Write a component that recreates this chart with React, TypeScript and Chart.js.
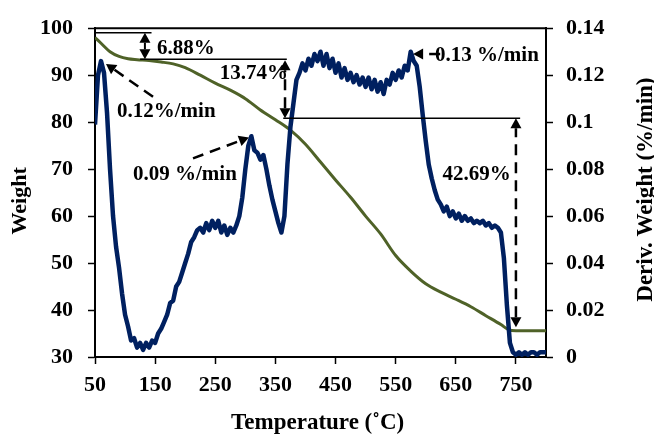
import React, { useEffect, useRef } from 'react';
import { Chart, registerables } from 'chart.js';

Chart.register(...registerables);

// ---- Data ----
const tempTicks = [50, 150, 250, 350, 450, 550, 650, 750];
const weightTicks = [30, 40, 50, 60, 70, 80, 90, 100];
const derivTicks = [0, 0.02, 0.04, 0.06, 0.08, 0.1, 0.12, 0.14];
const derivTickLabels = ['0', '0.02', '0.04', '0.06', '0.08', '0.1', '0.12', '0.14'];
const rightAxisTitle = 'Deriv. Weight (%/min)';

// TGA weight curve (%)
const tgaTemps = [50, 60, 75, 90, 105, 120, 140, 160, 180, 200, 225, 250, 275, 300, 325, 350, 375, 400, 425, 450, 475, 500, 525, 550, 575, 600, 625, 650, 675, 700, 725, 738, 750, 775, 800];
const tgaWeights = [98.0, 96.8, 95.0, 94.0, 93.5, 93.3, 93.1, 92.8, 92.4, 91.6, 90.0, 88.3, 86.8, 85.0, 82.6, 80.5, 78.3, 75.3, 71.5, 67.7, 64.0, 60.0, 56.2, 51.6, 48.3, 45.6, 43.8, 42.3, 40.7, 38.8, 36.9, 35.8, 35.6, 35.6, 35.6];

// Derivative weight curve (%/min)
const dtgTemps = [
  50, 55, 60, 65, 70, 75, 80, 85, 90, 95,
  100, 105, 110, 115, 120, 125, 130, 135, 140, 145,
  150, 155, 160, 165, 170, 175, 180, 185, 190, 195,
  200, 205, 210, 215, 220, 225, 230, 235, 240, 245,
  250, 255, 260, 265, 270, 275, 280, 285, 290, 295,
  300, 305, 310, 315, 320, 325, 330, 335, 340, 345,
  350, 355, 360, 365, 370, 375, 380, 385, 390, 395,
  400, 405, 410, 415, 420, 425, 430, 435, 440, 445,
  450, 455, 460, 465, 470, 475, 480, 485, 490, 495,
  500, 505, 510, 515, 520, 525, 530, 535, 540, 545,
  550, 555, 560, 565, 570, 575, 580, 585, 590, 595,
  600, 605, 610, 615, 620, 625, 630, 635, 640, 645,
  650, 655, 660, 665, 670, 675, 680, 685, 690, 695,
  700, 705, 710, 715, 720, 725, 730, 735, 740, 745,
  750, 755, 760, 765, 770, 775, 780, 785, 790, 795,
  800,
];
const dtgValues = [
  0.099, 0.120, 0.126, 0.121, 0.104, 0.080, 0.060, 0.047, 0.038, 0.027,
  0.018, 0.013, 0.007, 0.008, 0.004, 0.006, 0.003, 0.006, 0.004, 0.007,
  0.006, 0.010, 0.012, 0.015, 0.018, 0.023, 0.024, 0.030, 0.032, 0.036,
  0.040, 0.044, 0.049, 0.051, 0.054, 0.055, 0.053, 0.057, 0.054, 0.058,
  0.055, 0.058, 0.053, 0.056, 0.052, 0.055, 0.053, 0.056, 0.060, 0.068,
  0.080, 0.090, 0.094, 0.088, 0.087, 0.084, 0.086, 0.080, 0.073, 0.067,
  0.062, 0.057, 0.053, 0.060, 0.082, 0.098, 0.108, 0.118, 0.121, 0.125,
  0.122, 0.127, 0.124, 0.129, 0.126, 0.130, 0.124, 0.129, 0.123, 0.127,
  0.121, 0.125, 0.119, 0.123, 0.118, 0.121, 0.117, 0.120, 0.116, 0.119,
  0.115, 0.119, 0.114, 0.118, 0.113, 0.117, 0.112, 0.118, 0.116, 0.121,
  0.118, 0.122, 0.119, 0.124, 0.122, 0.130, 0.126, 0.124, 0.115, 0.103,
  0.092, 0.082, 0.076, 0.071, 0.067, 0.065, 0.062, 0.064, 0.060, 0.062,
  0.059, 0.061, 0.058, 0.060, 0.058, 0.059, 0.057, 0.058, 0.057, 0.058,
  0.056, 0.057, 0.055, 0.056, 0.055, 0.053, 0.042, 0.022, 0.006, 0.002,
  0.001, 0.002, 0.001, 0.002, 0.001, 0.002, 0.002, 0.001, 0.002, 0.002,
  0.002,
];

// Annotations (data coordinates: temperature, weight on left axis)
const refLines = [
  { x1: 50, x2: 144, y: 99.05 },
  { x1: 125, x2: 369, y: 93.38 },
  { x1: 363, x2: 757, y: 80.82 },
];
const arrows = [
  { from: [133, 93.38], to: [133, 99.05], dashed: false, both: true },
  { from: [366, 80.82], to: [366, 93.17], dashed: true, both: true },
  { from: [750, 36.35], to: [750, 80.82], dashed: true, both: true },
  { from: [146.5, 85.4], to: [68.3, 92.4], dashed: true, both: false },
  { from: [213, 72.3], to: [306, 76.74], dashed: true, both: false },
  { from: [624, 94.5], to: [579, 94.5], dashed: true, both: false },
];
const labels = [
  { text: '6.88%', x: 153, y: 95.6, align: 'left' },
  { text: '13.74%', x: 371, y: 90.34, align: 'right' },
  { text: '42.69%', x: 741.4, y: 68.85, align: 'right' },
  { text: '0.12%/min', x: 86.6, y: 82.24, align: 'left' },
  { text: '0.09 %/min', x: 113.2, y: 68.85, align: 'left' },
  { text: '0.13 %/min', x: 615.4, y: 94.23, align: 'left' },
];

const FAMILY = "'Liberation Serif', 'Times New Roman', serif";
const GREEN = '#4F6228';
const NAVY = '#002060';

function head(ctx: CanvasRenderingContext2D, tx: number, ty: number, fx: number, fy: number, len: number, w: number) {
  const a = Math.atan2(ty - fy, tx - fx);
  const bx = tx - len * Math.cos(a);
  const by = ty - len * Math.sin(a);
  ctx.beginPath();
  ctx.moveTo(tx, ty);
  ctx.lineTo(bx + (w / 2) * Math.sin(a), by - (w / 2) * Math.cos(a));
  ctx.lineTo(bx - (w / 2) * Math.sin(a), by + (w / 2) * Math.cos(a));
  ctx.closePath();
  ctx.fill();
}

const annotationPlugin = {
  id: 'tgaAnnotations',
  afterDatasetsDraw(chart: any) {
    const { ctx, chartArea, scales } = chart;
    const X = (v: number) => scales.x.getPixelForValue(v);
    const Y = (v: number) => scales.y.getPixelForValue(v);
    ctx.save();
    ctx.strokeStyle = '#000';
    ctx.fillStyle = '#000';
    // top frame line
    ctx.lineWidth = 2;
    ctx.beginPath();
    ctx.moveTo(chartArea.left, chartArea.top);
    ctx.lineTo(chartArea.right, chartArea.top);
    ctx.stroke();
    // reference lines
    ctx.lineWidth = 1.5;
    refLines.forEach((l) => {
      ctx.beginPath();
      ctx.moveTo(X(l.x1), Y(l.y));
      ctx.lineTo(X(l.x2), Y(l.y));
      ctx.stroke();
    });
    // arrows
    const len = 10;
    const w = 11;
    arrows.forEach((ar) => {
      const fx = X(ar.from[0]);
      const fy = Y(ar.from[1]);
      const tx = X(ar.to[0]);
      const ty = Y(ar.to[1]);
      const a = Math.atan2(ty - fy, tx - fx);
      const ex = tx - len * Math.cos(a);
      const ey = ty - len * Math.sin(a);
      let sx = fx;
      let sy = fy;
      if (ar.both) {
        sx = fx + len * Math.cos(a);
        sy = fy + len * Math.sin(a);
      }
      ctx.lineWidth = ar.dashed ? 2.5 : 2;
      ctx.setLineDash(ar.dashed ? [11, 7] : []);
      ctx.beginPath();
      ctx.moveTo(sx, sy);
      ctx.lineTo(ex, ey);
      ctx.stroke();
      ctx.setLineDash([]);
      head(ctx, tx, ty, fx, fy, len, w);
      if (ar.both) head(ctx, fx, fy, tx, ty, len, w);
    });
    // texts
    ctx.font = `bold 21px ${FAMILY}`;
    ctx.textBaseline = 'middle';
    labels.forEach((lb) => {
      ctx.textAlign = lb.align as CanvasTextAlign;
      ctx.fillText(lb.text, X(lb.x), Y(lb.y));
    });
    ctx.restore();
  },
  afterDraw(chart: any) {
    // right axis title, reading bottom-to-top like the left one
    const { ctx, chartArea } = chart;
    ctx.save();
    ctx.translate(646, (chartArea.top + chartArea.bottom) / 2 - 3);
    ctx.rotate(-Math.PI / 2);
    ctx.font = `bold 23px ${FAMILY}`;
    ctx.fillStyle = '#000';
    ctx.textAlign = 'center';
    ctx.textBaseline = 'middle';
    ctx.fillText(rightAxisTitle, 0, 0);
    ctx.restore();
  },
};

const tickFont = { family: FAMILY, size: 22, weight: 'bold' as const };
const titleFont = (size: number) => ({ family: FAMILY, size, weight: 'bold' as const, lineHeight: 1 });
const gridOpts = { display: true, drawOnChartArea: false, drawTicks: true, tickLength: 7, color: '#000', tickWidth: 1.5 };
const borderOpts = { display: true, color: '#000', width: 2 };

export default function App() {
  const ref = useRef<HTMLCanvasElement | null>(null);

  useEffect(() => {
    if (!ref.current) return;
    const chart = new Chart(ref.current, {
      type: 'line',
      data: {
        datasets: [
          {
            label: 'Deriv. Weight',
            data: dtgTemps.map((t, i) => ({ x: t, y: dtgValues[i] })),
            yAxisID: 'y1',
            borderColor: NAVY,
            borderWidth: 4.5,
            pointRadius: 0,
            tension: 0,
            order: 0,
            borderJoinStyle: 'round',
          },
          {
            label: 'Weight',
            data: tgaTemps.map((t, i) => ({ x: t, y: tgaWeights[i] })),
            yAxisID: 'y',
            borderColor: GREEN,
            borderWidth: 3,
            pointRadius: 0,
            cubicInterpolationMode: 'monotone',
            order: 1,
          },
        ],
      },
      options: {
        responsive: false,
        maintainAspectRatio: false,
        devicePixelRatio: 1,
        animation: false,
        layout: { padding: { top: 26, left: 0, right: 0, bottom: 0 } },
        plugins: { legend: { display: false }, tooltip: { enabled: false } },
        scales: {
          x: {
            type: 'linear',
            min: 50,
            max: 800,
            afterBuildTicks: (s: any) => { s.ticks = tempTicks.map((v) => ({ value: v })); },
            afterFit: (s: any) => { s.height = 78; },
            ticks: { font: tickFont, color: '#000', padding: 8, maxRotation: 0, autoSkip: false },
            grid: gridOpts,
            border: borderOpts,
            title: { display: true, text: 'Temperature (˚C) ', color: '#000', font: titleFont(23), padding: { top: 0, bottom: 0.5 } },
          },
          y: {
            type: 'linear',
            position: 'left',
            min: 30,
            max: 100,
            afterBuildTicks: (s: any) => { s.ticks = weightTicks.map((v) => ({ value: v })); },
            afterFit: (s: any) => { s.width = 95; },
            ticks: { font: tickFont, color: '#000', padding: 15, autoSkip: false },
            grid: gridOpts,
            border: borderOpts,
            title: { display: true, text: 'Weight   ', color: '#000', font: titleFont(22), padding: { top: 9, bottom: 0 } },
          },
          y1: {
            type: 'linear',
            position: 'right',
            min: 0,
            max: 0.14,
            afterBuildTicks: (s: any) => { s.ticks = derivTicks.map((v) => ({ value: v })); },
            afterFit: (s: any) => { s.width = 108; },
            ticks: { font: tickFont, color: '#000', padding: 13, autoSkip: false, callback: (_v: any, i: number) => derivTickLabels[i] },
            grid: gridOpts,
            border: borderOpts,
            title: { display: false },
          },
        },
      },
      plugins: [annotationPlugin],
    } as any);
    return () => chart.destroy();
  }, []);

  return (
    <div style={{ position: 'fixed', left: 0, top: 0, width: 654, height: 435, background: '#fff' }}>
      <canvas ref={ref} width={654} height={435} style={{ display: 'block' }} />
    </div>
  );
}
